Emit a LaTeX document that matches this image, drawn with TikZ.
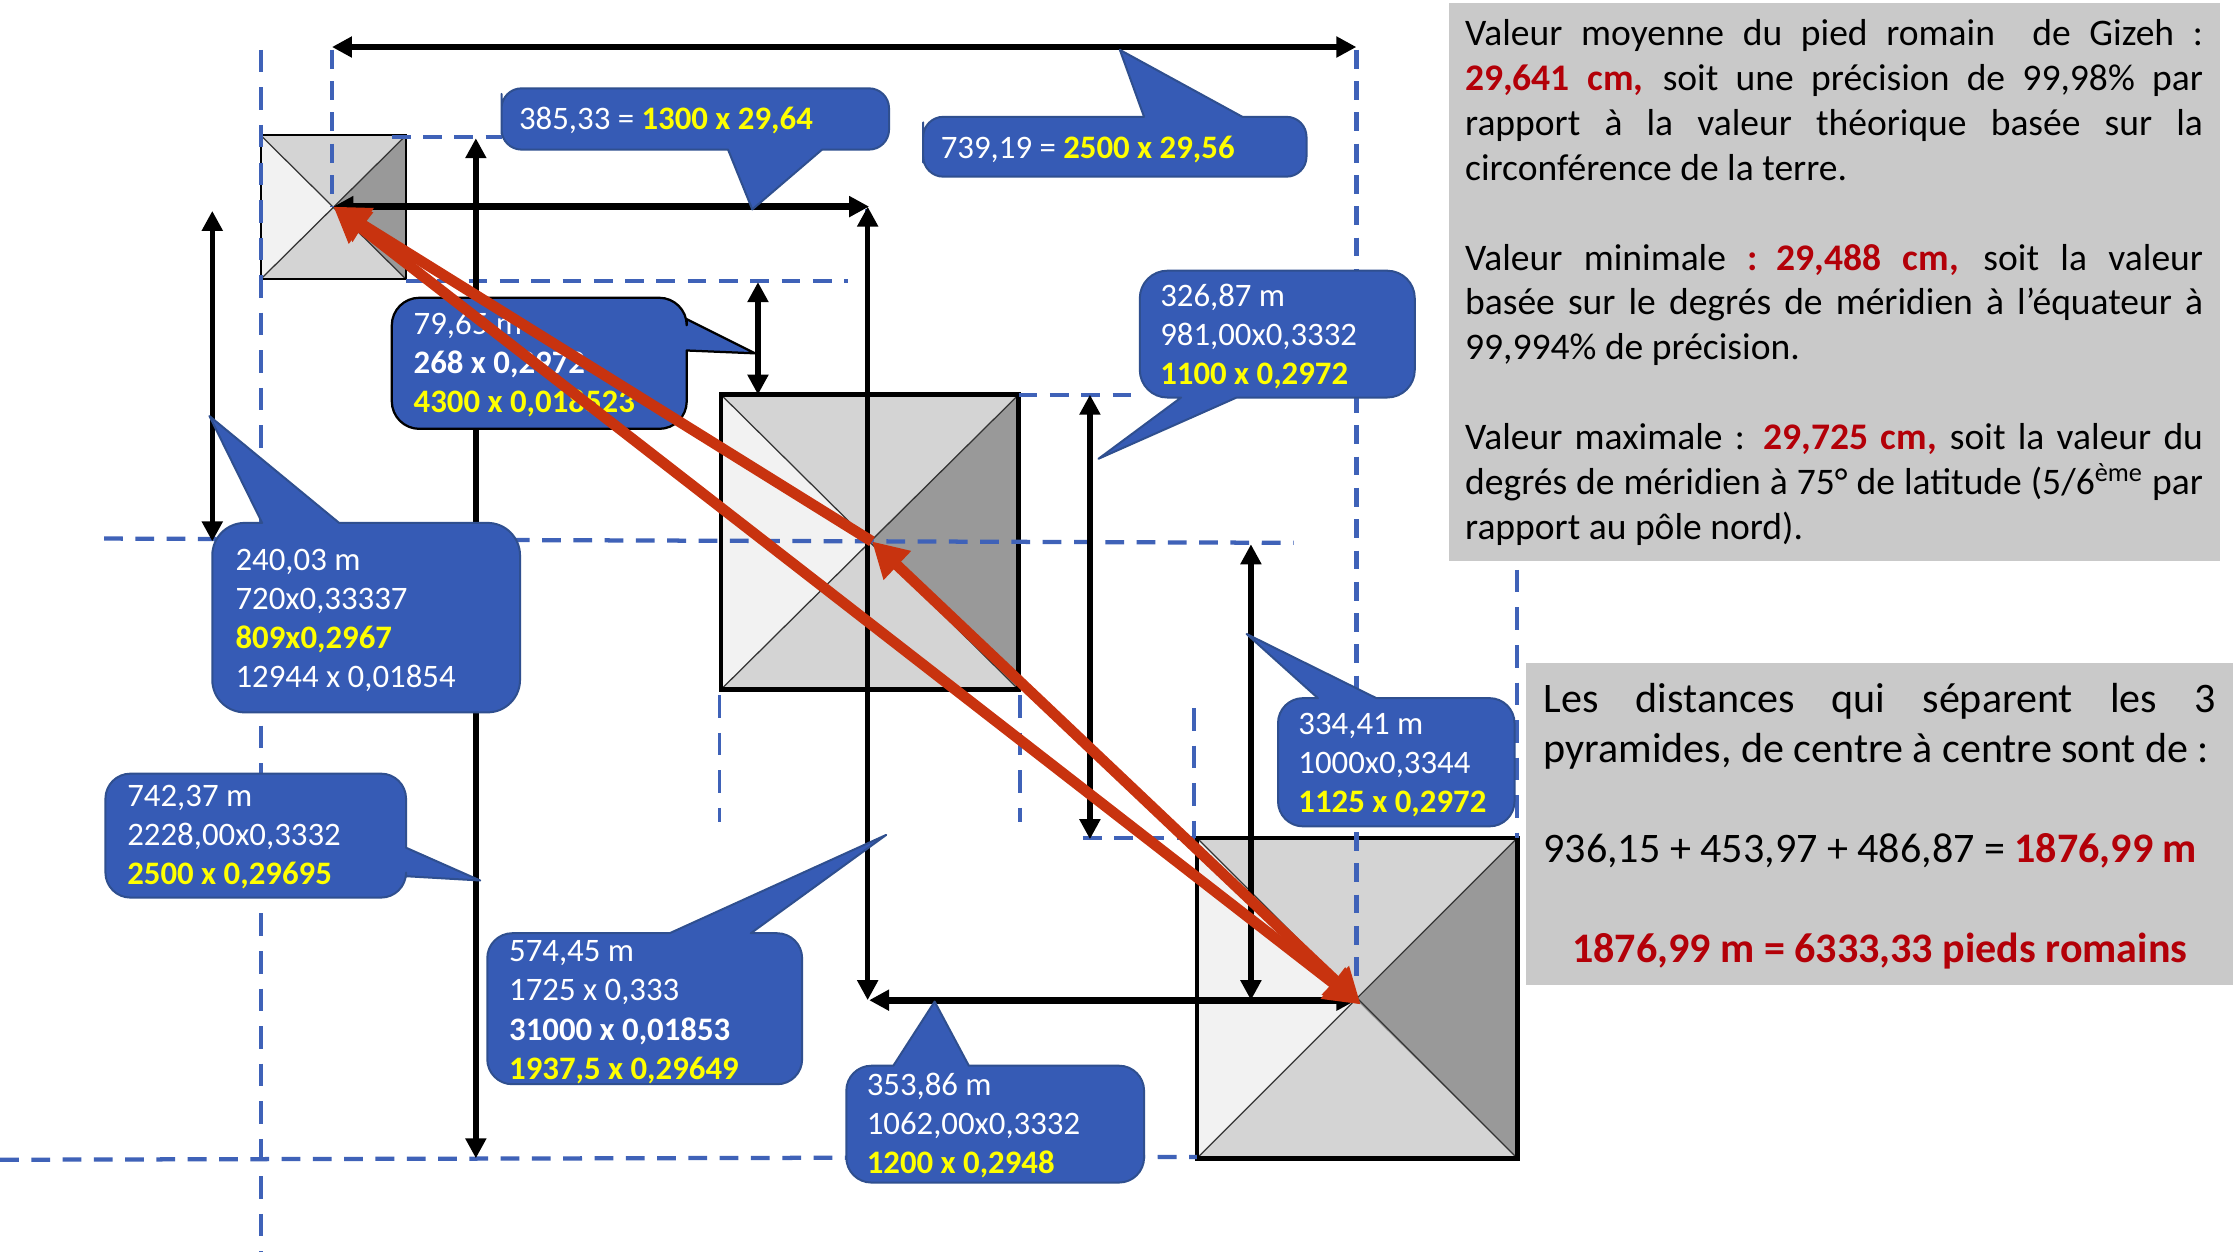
\documentclass[tikz,border=0pt]{standalone}
\usepackage{fontspec}
\setmainfont{Carlito}
\usetikzlibrary{arrows.meta}
\definecolor{callblue}{HTML}{365BB5}
\definecolor{calledge}{HTML}{2F4F8F}
\definecolor{guide}{HTML}{3F62B8}
\definecolor{redarrow}{HTML}{C8330F}
\definecolor{panelgrey}{HTML}{C9C9C9}
\definecolor{darkred}{HTML}{B30008}
\definecolor{yel}{HTML}{FFFF00}
\newlength{\paneljust}
\newcommand{\jl}[1]{\noindent\hbox to \paneljust{\spaceskip=.226em plus 1fil\relax #1}\par}
\newcommand{\yb}[1]{\textcolor{yel}{\textbf{#1}}}
\newcommand{\rb}[1]{\textcolor{darkred}{\textbf{#1}}}
\tikzset{
  x=0.02cm,y=-0.02cm,
  guideline/.style={guide,line width=1.7pt,dash pattern=on 7.5pt off 5pt},
  guidelong/.style={guide,line width=1.5pt,dash pattern=on 9pt off 6pt},
  dim/.style={black,line width=2.1pt,{Triangle[length=8pt,width=8pt]}-{Triangle[length=8pt,width=8pt]}},
  dimbold/.style={dim,line width=2.7pt},
  redlink/.style={redarrow,line width=4.3pt,-{Triangle[length=14pt,width=15pt]}},
  redboth/.style={redarrow,line width=4.3pt,{Triangle[length=14pt,width=15pt]}-{Triangle[length=14pt,width=15pt]}},
  callshape/.style={fill=callblue,draw=calledge,line width=0.8pt,line join=round},
  calltext/.style={anchor=north west,inner sep=0pt,align=left,text=white,font=\fontsize{13.1}{15.6}\selectfont},
  paneltext/.style={anchor=north west,inner sep=0pt,text=black},
  faceleft/.style={fill=black!5},
  facemid/.style={fill=black!17},
  faceright/.style={fill=black!40},
  pyrline/.style={draw=black!80,line width=0.5pt},
}
% \pyramid{name}{x1}{y1}{x2}{y2}{centre x}{centre y}{border width}
\newcommand{\pyramid}[8]{%
  \coordinate (#1) at (#6,#7);
  \fill[faceleft] (#2,#3) -- (#1) -- (#2,#5) -- cycle;
  \fill[facemid] (#2,#3) -- (#1) -- (#4,#3) -- cycle;
  \fill[facemid] (#2,#5) -- (#1) -- (#4,#5) -- cycle;
  \fill[faceright] (#4,#3) -- (#1) -- (#4,#5) -- cycle;
  \draw[pyrline] (#2,#3) -- (#4,#5) (#2,#5) -- (#4,#3);
  \draw[line width=#8] (#2,#3) rectangle (#4,#5);
}
\begin{document}
\begin{tikzpicture}
\useasboundingbox (0,0) rectangle (1568,879);
\fill[white] (0,0) rectangle (1568,879);

% grey panels
\fill[panelgrey] (1017,2) rectangle (1558,394);
\fill[panelgrey] (1071,465) rectangle (1567,691);

% pyramids
\pyramid{small}{183}{95}{285}{196}{234}{145}{0.8pt}
\pyramid{mid}{506}{277}{715}{484}{610}{380}{1.8pt}
\pyramid{large}{840}{588}{1065}{813}{952}{702}{1.8pt}

% guide lines
\draw[guidelong] (183,35) -- (183,879);
\draw[guideline] (233,35) -- (233,145);
\draw[guideline] (275,96) -- (352,96);
\draw[guideline] (285,197) -- (595,197);
\draw[guideline] (73,378) -- (908,381);
\draw[guideline] (952,35) -- (952,690);
\draw[guideline] (715,277) -- (800,277);
\draw[guidelong] (505,488) -- (505,577);
\draw[guidelong] (716,488) -- (716,577);
\draw[guidelong] (838,497) -- (838,588);
\draw[guideline] (760,588) -- (840,588);
\draw[guidelong] (1065,400) -- (1065,588);
\draw[guideline] (0,814) -- (840,812);
\draw[guide,line width=1pt] (608,147) -- (608,380);

% named ends of the dimension arrows
\coordinate (topL) at (233,33);
\coordinate (topR) at (952,33);
\coordinate (smallR) at (610,145);
\coordinate (aT) at (334,97);
\coordinate (aB) at (334,813);
\coordinate (bT) at (149,148);
\coordinate (bB) at (149,380);
\coordinate (cT) at (532,198);
\coordinate (cB) at (532,277);
\coordinate (dT) at (609,145);
\coordinate (dB) at (609,702);
\coordinate (eT) at (765,277);
\coordinate (eB) at (765,589);
\coordinate (fT) at (878,382);
\coordinate (fB) at (878,702);
\coordinate (gL) at (610,702);

\draw[dimbold] (topL) -- (topR);
\draw[dimbold] (small) -- (smallR);
\draw[dim] (aT) -- (aB);
\draw[dim] (bT) -- (bB);
\draw[dim] (cT) -- (cB);
\draw[dim] (dT) -- (dB);
\draw[dim] (eT) -- (eB);
\draw[dim] (fT) -- (fB);
\draw[dimbold] (gL) -- (large);

% callouts
\draw[callshape] [rounded corners=8pt] (352,80) -- (352,62) -- (624,62) -- (624,105) [sharp corners] -- (577,105) -- (528,147) -- (511,105) [rounded corners=8pt] -- (352,105) -- cycle;
\node[calltext] (t385) at (364,75) {385,33 = \yb{1300 x 29,64}};

\draw[callshape] [rounded corners=8pt] (648,100) -- (648,82) [sharp corners] -- (803,82) -- (786,35) -- (872,82) [rounded corners=8pt] -- (917,82) -- (917,124) -- (648,124) -- cycle;
\node[calltext] (t739) at (660,95) {739,19 = \yb{2500 x 29,56}};

\draw[fill=callblue,draw=black,line width=0.9pt,line join=round] [rounded corners=11pt] (275,250) -- (275,209) -- (482,209) [sharp corners] -- (482,224) -- (530,248) -- (482,246) [rounded corners=11pt] -- (482,301) -- (275,301) -- cycle;
\node[calltext] (t79) at (290,219) {79,65 m\\\textbf{268 x 0,2972}\\\yb{4300 x 0,018523}};

\draw[callshape] [rounded corners=11pt] (800,230) -- (800,190) -- (993,190) -- (993,279) [sharp corners] -- (868,279) -- (771,322) -- (829,279) [rounded corners=11pt] -- (800,279) -- cycle;
\node[calltext] (t326) at (814,199) {326,87 m\\981,00x0,3332\\\yb{1100 x 0,2972}};

\draw[callshape] [rounded corners=13pt] (149,430) -- (149,367) [sharp corners] -- (184,367) -- (147,292) -- (238,367) [rounded corners=13pt] -- (365,367) -- (365,500) -- (149,500) -- cycle;
\node[calltext] (t240) at (165,385) {240,03 m\\720x0,33337\\\yb{809x0,2967}\\12944 x 0,01854};

\draw[callshape] [rounded corners=10pt] (74,580) -- (74,543) -- (285,543) [sharp corners] -- (285,595) -- (337,618) -- (285,615) [rounded corners=10pt] -- (285,630) -- (74,630) -- cycle;
\node[calltext] (t742) at (89,551) {742,37 m\\2228,00x0,3332\\\yb{2500 x 0,29695}};

\draw[callshape] [rounded corners=10pt] (342,700) -- (342,655) [sharp corners] -- (470,655) -- (622,586) -- (527,655) [rounded corners=10pt] -- (563,655) -- (563,761) -- (342,761) -- cycle;
\node[calltext] (t574) at (357,660) {574,45 m\\1725 x 0,333\\\textbf{31000 x 0,01853}\\\yb{1937,5 x 0,29649}};

\draw[callshape] [rounded corners=10pt] (594,790) -- (594,748) [sharp corners] -- (627,748) -- (656,703) -- (680,748) [rounded corners=10pt] -- (803,748) -- (803,830) -- (594,830) -- cycle;
\node[calltext] (t353) at (608,753) {353,86 m\\1062,00x0,3332\\\yb{1200 x 0,2948}};

\draw[callshape] [rounded corners=10pt] (897,530) -- (897,490) [sharp corners] -- (925,490) -- (875,445) -- (966,490) [rounded corners=10pt] -- (1063,490) -- (1063,580) -- (897,580) -- cycle;
\node[calltext] (t334) at (911,500) {334,41 m\\1000x0,3344\\\yb{1125 x 0,2972}};

% red arrows
\coordinate (midc) at (612,380);
\coordinate (largec) at (955,705);
\draw[redlink] (midc) -- (small);
\draw[redboth] (small) -- (largec);
\draw[redboth] (midc) -- (largec);

% panel texts
\node[paneltext,text width=10.36cm,font=\fontsize{15}{17.97}\selectfont] (panelA) at (1028,13) {%
\setlength{\paneljust}{10.36cm}%
\jl{Valeur moyenne du pied romain {} de Gizeh :}%
\jl{\rb{29,641 cm,} soit une précision de 99,98\% par}%
\jl{rapport à la valeur théorique basée sur la}%
\jl{circonférence de la terre.\hfill}%
\jl{}%
\jl{Valeur minimale \rb{: 29,488 cm,} soit la valeur}%
\jl{basée sur le degrés de méridien à l’équateur à}%
\jl{99,994\% de précision.\hfill}%
\jl{}%
\jl{Valeur maximale : \rb{29,725 cm,} soit la valeur du}%
\jl{degrés de méridien à 75° de latitude (5/6\textsuperscript{ème} par}%
\jl{rapport au pôle nord).\hfill}};

\node[paneltext,text width=9.44cm,font=\fontsize{16.8}{20}\selectfont] (panelB) at (1083,479) {%
\setlength{\paneljust}{9.44cm}%
\jl{Les distances qui séparent les 3}%
\jl{pyramides, de centre à centre sont de :\hfill}%
\jl{}%
\jl{936,15 + 453,97 + 486,87 = \rb{1876,99 m}\hfill}%
\jl{}%
\jl{\hfill\rb{1876,99 m = 6333,33 pieds romains}\hfill}};
\end{tikzpicture}
\end{document}
